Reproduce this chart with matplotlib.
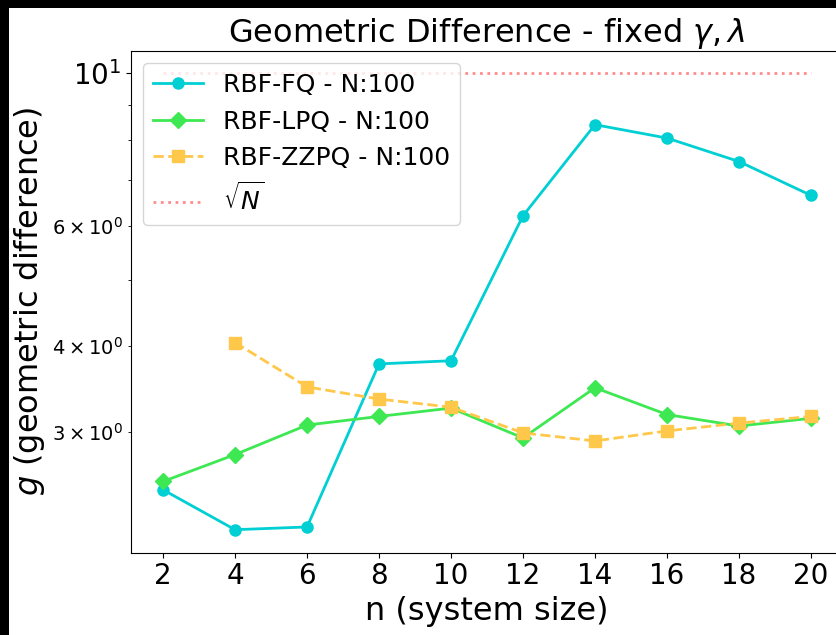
import numpy as np
import matplotlib
matplotlib.use("Agg")
import matplotlib.pyplot as plt
from matplotlib.patches import Rectangle

# --- data ---
n = [2, 4, 6, 8, 10, 12, 14, 16, 18, 20]
g_fq = [2.47, 2.16, 2.18, 3.77, 3.81, 6.20, 8.42, 8.05, 7.44, 6.64]
g_lpq = [2.54, 2.78, 3.07, 3.16, 3.25, 2.94, 3.48, 3.18, 3.06, 3.14]
n_zz = [4, 6, 8, 10, 12, 14, 16, 18, 20]
g_zz = [4.05, 3.49, 3.35, 3.26, 2.99, 2.91, 3.01, 3.09, 3.16]
sqrt_N = np.sqrt(100)

fig = plt.figure(figsize=(8.37, 6.35), dpi=100)
fig.patch.set_facecolor('black')
# white canvas, black strip on left and top like the reference
fig.add_artist(Rectangle((9 / 837, 0), 1, 1 - 8 / 635, transform=fig.transFigure,
                         facecolor='white', edgecolor='none', zorder=-1))

ax = fig.add_axes([0.1561, 0.1299, 0.8515, 0.7903])
ax.plot(n, g_fq, '-o', color='#00cfd3', lw=2, ms=8, label='RBF-FQ - N:100')
ax.plot(n, g_lpq, '-D', color='#3ee852', lw=2, ms=8, label='RBF-LPQ - N:100')
ax.plot(n_zz, g_zz, '--s', color='#ffc84a', lw=2, ms=8, label='RBF-ZZPQ - N:100')
ax.plot([n[0], n[-1]], [sqrt_N, sqrt_N], ':', color='#ff7070', lw=2, alpha=0.8,
        label=r'$\sqrt{N}$')

ax.set_yscale('log')
ax.set_xticks(n)
ax.tick_params(which='major', labelsize=20)
ax.tick_params(which='minor', labelsize=14)
ax.set_xlabel('n (system size)', fontsize=23)
ax.set_ylabel(r'$g$ (geometric difference)', fontsize=23)
ax.set_title(r'Geometric Difference - fixed $\gamma, \lambda$', fontsize=23)
ax.legend(loc='upper left', fontsize=18)

fig.savefig('out.png', dpi=100, facecolor=fig.get_facecolor())
